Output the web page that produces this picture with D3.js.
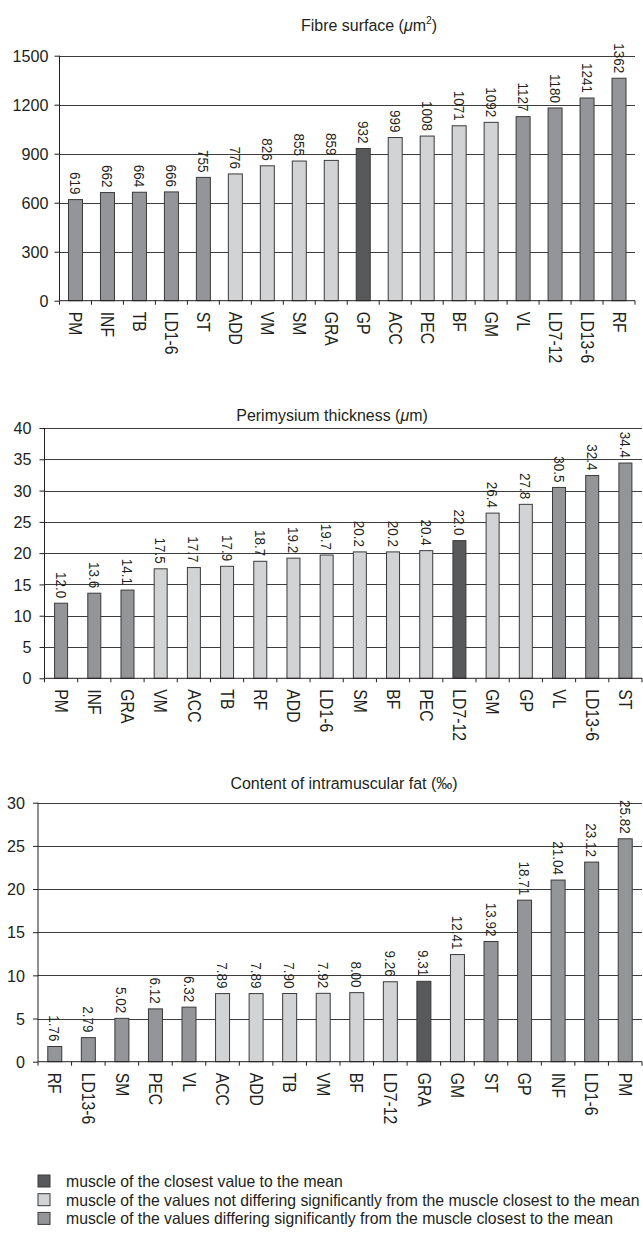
<!DOCTYPE html>
<html><head><meta charset="utf-8">
<script src="https://cdn.jsdelivr.net/npm/d3@7"></script>
<style>
body{margin:0;background:#fff}
svg{display:block}
text{font-family:"Liberation Sans",Arial,Helvetica,sans-serif;fill:#231f20}
</style>
</head><body>
<svg id="c" width="643" height="1242"></svg>
<script>
// ---- data ----
const fibreCats = ["PM","INF","TB","LD1-6","ST","ADD","VM","SM","GRA","GP","ACC","PEC","BF","GM","VL","LD7-12","LD13-6","RF"];
const fibreVals = [619,662,664,666,755,776,826,855,859,932,999,1008,1071,1092,1127,1180,1241,1362];
const fibreGroups = ["s","s","s","s","s","n","n","n","n","d","n","n","n","n","s","s","s","s"];
const fibreTicks = [0,300,600,900,1200,1500];

const periCats = ["PM","INF","GRA","VM","ACC","TB","RF","ADD","LD1-6","SM","BF","PEC","LD7-12","GM","GP","VL","LD13-6","ST"];
const periVals = [12.0,13.6,14.1,17.5,17.7,17.9,18.7,19.2,19.7,20.2,20.2,20.4,22.0,26.4,27.8,30.5,32.4,34.4];
const periGroups = ["s","s","s","n","n","n","n","n","n","n","n","n","d","n","n","s","s","s"];
const periTicks = [0,5,10,15,20,25,30,35,40];

const fatCats = ["RF","LD13-6","SM","PEC","VL","ACC","ADD","TB","VM","BF","LD7-12","GRA","GM","ST","GP","INF","LD1-6","PM"];
const fatVals = [1.76,2.79,5.02,6.12,6.32,7.89,7.89,7.90,7.92,8.00,9.26,9.31,12.41,13.92,18.71,21.04,23.12,25.82];
const fatGroups = ["s","s","s","s","s","n","n","n","n","n","n","d","n","s","s","s","s","s"];
const fatTicks = [0,5,10,15,20,25,30];

const legendGroups = ["d","n","s"];
const legendLabels = [
  "muscle of the closest value to the mean",
  "muscle of the values not differing significantly from the muscle closest to the mean",
  "muscle of the values differing significantly from the muscle closest to the mean"
];

// ---- style ----
const groupColor = d3.scaleOrdinal().domain(["d","n","s"]).range(["#58595b","#d1d3d4","#939598"]);
const svg = d3.select("#c");
const SX = 0.9; // horizontal compression to mimic a condensed face

function drawChart(o){
  const g = svg.append("g");
  const x = d3.scaleBand().domain(o.cats).range([o.left,o.right]);
  const y = d3.scaleLinear().domain([0,o.max]).range([o.bottom,o.top]);
  const bw = o.barW;

  // gridlines
  g.append("g").selectAll("line").data(o.ticks.filter(t=>t>0)).join("line")
    .attr("x1",o.left).attr("x2",o.right)
    .attr("y1",d=>Math.round(y(d))+0.5).attr("y2",d=>Math.round(y(d))+0.5)
    .attr("stroke","#3d3d3d").attr("stroke-width",1);

  // y axis (ticks via d3 axis, labels drawn condensed)
  const ya = g.append("g").attr("transform",`translate(${o.left},0)`)
    .call(d3.axisLeft(y).tickValues(o.ticks).tickSize(5).tickFormat(""));
  ya.select(".domain").attr("stroke","#231f20").attr("d",`M0,${o.bottom}V${o.top}`);
  ya.selectAll(".tick line").attr("stroke","#231f20");
  g.append("g").selectAll("text").data(o.ticks).join("text")
    .attr("transform",d=>`translate(${o.left-5-o.pad},${y(d)}) scale(0.95,1)`)
    .attr("dy","0.36em").attr("text-anchor","end").attr("font-size",17)
    .text(d=>d);

  // bars
  g.append("g").selectAll("rect").data(o.vals).join("rect")
    .attr("x",(d,i)=>x(o.cats[i])+x.bandwidth()/2-bw/2)
    .attr("width",bw)
    .attr("y",d=>y(d)).attr("height",d=>o.bottom-y(d))
    .attr("fill",(d,i)=>groupColor(o.groups[i]))
    .attr("stroke","#3a3a3a").attr("stroke-width",1);

  // x axis
  const xa = g.append("g");
  xa.append("line").attr("x1",o.left).attr("x2",o.right).attr("y1",o.bottom).attr("y2",o.bottom)
    .attr("stroke","#231f20").attr("stroke-width",1);
  const bounds = o.cats.map(c=>x(c)).concat([o.right]);
  xa.selectAll("line.t").data(bounds).join("line").attr("class","t")
    .attr("x1",d=>d).attr("x2",d=>d).attr("y1",o.bottom).attr("y2",o.bottom+4)
    .attr("stroke","#231f20");
  xa.selectAll("text").data(o.cats).join("text")
    .attr("transform",d=>`translate(${x(d)+x.bandwidth()/2},${o.bottom+11}) rotate(90) scale(${SX},1)`)
    .attr("dy","0.36em").attr("text-anchor","start").attr("font-size",17.5).text(d=>d);

  // value labels
  g.append("g").selectAll("text").data(o.vals).join("text")
    .attr("transform",(d,i)=>`translate(${x(o.cats[i])+x.bandwidth()/2},${y(d)-5}) rotate(90) scale(${SX},1)`)
    .attr("dy","0.36em").attr("text-anchor","end").attr("font-size",15)
    .text(d=>d3.format(o.fmt)(d));

  // title
  const t = g.append("text").attr("transform",`translate(${o.titleX},${o.titleY}) scale(0.94,1)`)
    .attr("text-anchor","middle").attr("font-size",17);
  o.title(t);
}

drawChart({cats:fibreCats,vals:fibreVals,groups:fibreGroups,ticks:fibreTicks,max:1500,
  left:59.5,right:635,top:55.7,bottom:300.7,barW:14,pad:6,fmt:"d",titleX:369,titleY:31,
  title:t=>{t.append("tspan").text("Fibre surface (");t.append("tspan").attr("font-style","italic").text("μ");
    t.append("tspan").text("m");t.append("tspan").attr("font-size",11).attr("dy",-7).text("2");t.append("tspan").attr("dy",7).text(")");}});

drawChart({cats:periCats,vals:periVals,groups:periGroups,ticks:periTicks,max:40,
  left:44.5,right:642,top:428,bottom:678.3,barW:13,pad:8,fmt:".1f",titleX:332,titleY:421,
  title:t=>{t.append("tspan").text("Perimysium thickness (");t.append("tspan").attr("font-style","italic").text("μ");
    t.append("tspan").text("m)");}});

drawChart({cats:fatCats,vals:fatVals,groups:fatGroups,ticks:fatTicks,max:30,
  left:38,right:642,top:802.7,bottom:1061.7,barW:14,pad:8,fmt:".2f",titleX:344,titleY:789,
  title:t=>{t.text("Content of intramuscular fat (‰)");}});

// legend
const lg = svg.append("g").selectAll("g").data(legendLabels).join("g")
  .attr("transform",(d,i)=>`translate(38,${1181+i*18.7})`);
lg.append("rect").attr("x",0).attr("y",-6).attr("width",12).attr("height",12)
  .attr("fill",(d,i)=>groupColor(legendGroups[i])).attr("stroke","#3a3a3a");
const lt = lg.append("text").attr("x",0).attr("dy","0.36em").attr("font-size",16.5).text(d=>d);
// compress horizontally so the longest line ends near the right edge, as in the reference
const maxW = d3.max(lt.nodes(), n=>n.getComputedTextLength());
const lsx = Math.min(1, (640-66)/maxW);
lt.attr("transform",`translate(28,0) scale(${lsx},1)`);
</script>
</body></html>
